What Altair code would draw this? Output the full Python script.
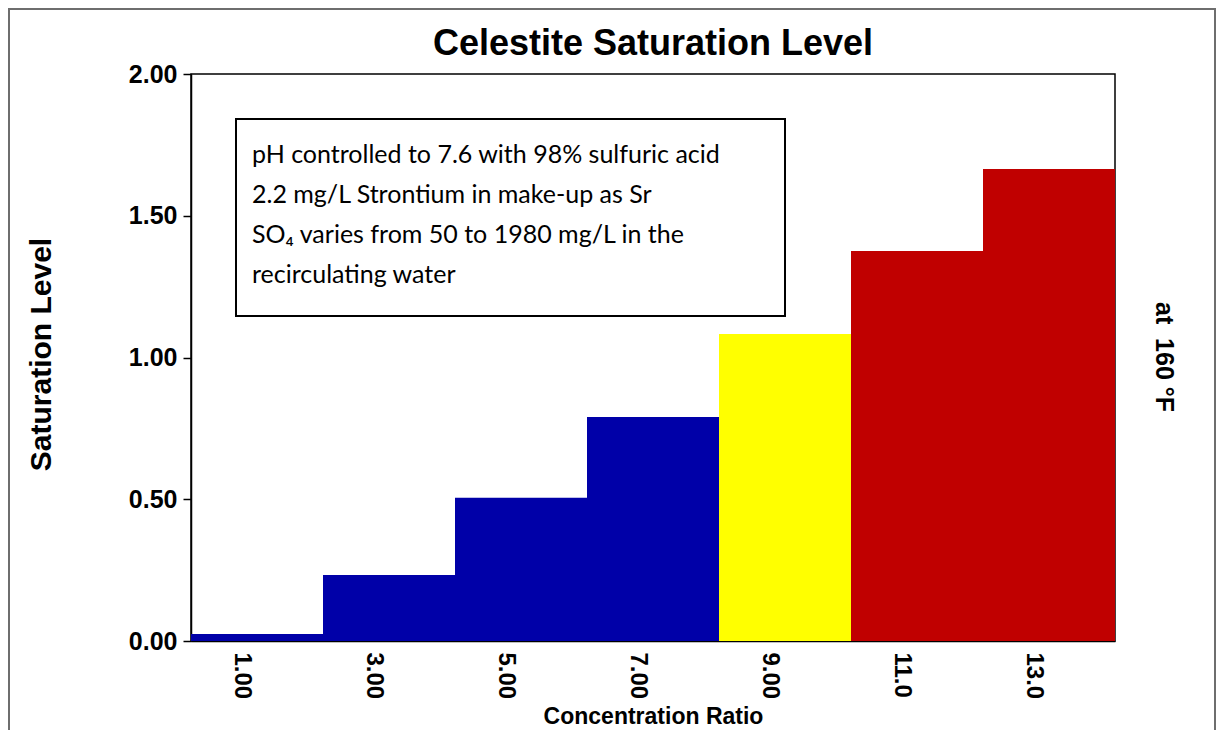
import altair as alt
import pandas as pd

ratios = ["1.00", "3.00", "5.00", "7.00", "9.00", "11.0", "13.0"]
saturation = [0.025, 0.233, 0.505, 0.79, 1.083, 1.376, 1.665]
bar_colors = ["#0000A8", "#0000A8", "#0000A8", "#0000A8", "#FFFF00", "#C00000", "#C00000"]
y_ticks = [0.0, 0.5, 1.0, 1.5, 2.0]
note_lines = [
    "pH controlled to 7.6 with 98% sulfuric acid",
    "2.2 mg/L Strontium in make-up as Sr",
    "SO\u2084 varies from 50 to 1980 mg/L in the",
    "recirculating water",
]
title_text = "Celestite Saturation Level"
side_text = "at\u00a0\u00a0160\u00a0°F"

df = pd.DataFrame({"ratio": ratios, "sat": saturation, "color": bar_colors})

W, H = 924, 567
AX = "Liberation Sans"

bars = alt.Chart(df).mark_bar(strokeWidth=0).encode(
    x=alt.X(
        "ratio:N",
        sort=ratios,
        scale=alt.Scale(paddingInner=0, paddingOuter=0),
        axis=alt.Axis(
            title="Concentration Ratio",
            labelAngle=90,
            labelFont=AX,
            labelFontSize=24,
            labelFontWeight="bold",
            labelColor="black",
            labelPadding=11,
            labelOffset=-15,
            ticks=False,
            tickSize=0,
            domainColor="black",
            domainWidth=1.5,
            titleFont=AX,
            titleFontSize=23,
            titleFontWeight="bold",
            titleColor="black",
            titleBaseline="alphabetic",
            titleY=82,
            titleX=W / 2,
        ),
    ),
    y=alt.Y(
        "sat:Q",
        scale=alt.Scale(domain=[0, 2], nice=False),
        axis=alt.Axis(
            title="Saturation Level",
            values=y_ticks,
            format=".2f",
            labelFont=AX,
            labelFontSize=25,
            labelFontWeight="bold",
            labelColor="black",
            labelPadding=6,
            tickSize=8,
            tickColor="black",
            tickWidth=1.5,
            domainColor="black",
            domainWidth=1.5,
            grid=False,
            titleFont=AX,
            titleFontSize=30,
            titleFontWeight="bold",
            titleColor="black",
            titleBaseline="alphabetic",
            titleAlign="center",
            titleX=-141,
            titleY=280,
        ),
    ),
    color=alt.Color("color:N", scale=None, legend=None),
)

frame_df = pd.DataFrame({"k": [0]})
outer = alt.Chart(frame_df).mark_rect(fill=None, stroke="#6E6E6E", strokeWidth=2).encode(
    x=alt.value(-182), x2=alt.value(1024), y=alt.value(-65), y2=alt.value(700)
)
box = alt.Chart(frame_df).mark_rect(fill="white", stroke="black", strokeWidth=2).encode(
    x=alt.value(45), x2=alt.value(594), y=alt.value(45), y2=alt.value(242)
)
note = alt.Chart(frame_df).mark_text(
    font="Lato", fontSize=25, align="left", baseline="alphabetic", lineHeight=40, color="black"
).encode(x=alt.value(61), y=alt.value(89), text=alt.value(note_lines))
side = alt.Chart(frame_df).mark_text(
    font=AX, fontSize=25, fontWeight="bold", angle=90, align="center", baseline="middle", color="black"
).encode(x=alt.value(973), y=alt.value(283), text=alt.value(side_text))
title = alt.Chart(frame_df).mark_text(
    font=AX, fontSize=36, fontWeight="bold", align="center", baseline="alphabetic", color="black"
).encode(x=alt.value(W / 2), y=alt.value(-19), text=alt.value(title_text))

chart = alt.layer(outer, bars, box, note, side, title).properties(
    width=W,
    height=H,
    background="white",
    autosize=alt.AutoSizeParams(type="none"),
    padding={"left": 183, "top": 66, "right": 102, "bottom": 89},
).configure_view(stroke="black", strokeWidth=1.5)

chart.save("out.html", embed_options={"renderer": "svg", "actions": False})
